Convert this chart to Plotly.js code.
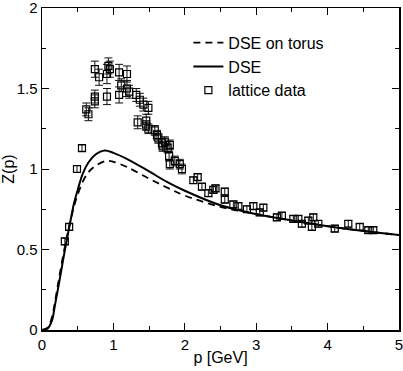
<!DOCTYPE html>
<html><head><meta charset="utf-8">
<script src="https://cdn.plot.ly/plotly-3.0.1.min.js"></script>
<style>html,body{margin:0;padding:0;background:#fff}#c{width:403px;height:371px}</style>
</head><body><div id="c"></div>
<script>
// DSE curves
const dseP = [0,0.08,0.14,0.18,0.25,0.33,0.4,0.45,0.5,0.57,0.65,0.75,0.88,1.0,1.2,1.5,1.75,2,2.5,3,3.5,4,4.5,5];
const dseZ = [0,0.01,0.06,0.15,0.32,0.52,0.68,0.79,0.87,0.97,1.04,1.09,1.115,1.10,1.06,0.985,0.92,0.865,0.775,0.72,0.68,0.645,0.615,0.59];
const torusP = [0,0.08,0.14,0.18,0.25,0.33,0.4,0.45,0.5,0.57,0.65,0.75,0.9,1.0,1.2,1.5,1.75,2,2.5,3,3.5,4,4.5,5];
const torusZ = [0,0.015,0.08,0.17,0.35,0.54,0.68,0.77,0.84,0.92,0.98,1.02,1.05,1.045,1.01,0.94,0.885,0.835,0.765,0.72,0.68,0.645,0.615,0.59];
// lattice data
const latP = [0.32,0.38,0.49,0.56,0.62,0.65,0.74,0.74,0.74,0.80,0.91,0.91,0.93,0.95,1.08,1.08,1.11,1.19,1.19,1.22,1.32,1.34,1.37,1.42,1.46,1.46,1.49,1.49,1.58,1.61,1.63,1.68,1.69,1.72,1.76,1.79,1.78,1.79,1.86,1.93,1.96,2.12,2.18,2.24,2.33,2.40,2.43,2.56,2.56,2.68,2.75,2.87,2.96,3.05,3.10,3.29,3.36,3.52,3.59,3.64,3.73,3.80,3.78,3.87,4.10,4.29,4.45,4.57,4.64];
const latZ = [0.55,0.64,1.00,1.13,1.37,1.34,1.45,1.42,1.62,1.57,1.45,1.59,1.64,1.62,1.60,1.46,1.52,1.59,1.50,1.48,1.46,1.29,1.43,1.40,1.30,1.27,1.38,1.25,1.24,1.21,1.19,1.16,1.14,1.17,1.13,1.15,1.08,1.03,1.05,1.03,1.00,0.93,0.95,0.89,0.85,0.87,0.88,0.86,0.81,0.78,0.77,0.75,0.77,0.73,0.76,0.70,0.71,0.69,0.69,0.66,0.68,0.70,0.64,0.66,0.63,0.66,0.64,0.62,0.62];
const latErr = [0.02,0.02,0.02,0.02,0.04,0.04,0.04,0.04,0.05,0.05,0.05,0.06,0.05,0.05,0.05,0.05,0.04,0.05,0.05,0.04,0.04,0.04,0.04,0.04,0.04,0.03,0.04,0.03,0.03,0.03,0.03,0.03,0.03,0.03,0.03,0.03,0.03,0.03,0.03,0.03,0.03,0.02,0.02,0.02,0.02,0.02,0.02,0.02,0.02,0.02,0.02,0.02,0.02,0.02,0.02,0.02,0.02,0.02,0.02,0.02,0.02,0.02,0.02,0.02,0.02,0.02,0.02,0.02,0.02];

const FONT = 'Liberation Sans, Arial';
const traces = [
  {x: torusP, y: torusZ, mode:'lines', name:'DSE on torus', line:{color:'#000', width:1.8, dash:'7px,5px', shape:'spline'}},
  {x: dseP, y: dseZ, mode:'lines', name:'DSE', line:{color:'#000', width:2, shape:'spline'}},
  {x: latP, y: latZ, mode:'markers', name:'lattice data',
   marker:{symbol:'square-open', size:7, color:'#000', line:{width:1.2, color:'#000'}},
   error_y:{type:'data', array: latErr, visible:true, color:'#111', thickness:1, width:4}}
];
const axBase = {showline:true, mirror:'ticks', linecolor:'#000', linewidth:1.5, ticks:'inside', ticklen:7, tickwidth:1, tickcolor:'#000', showgrid:false, zeroline:false, ticklabeloverflow:'allow', tickfont:{family:FONT, size:15, color:'#000'}};
const layout = {
  width:403, height:371, margin:{l:42, r:4, t:8, b:41},
  paper_bgcolor:'#fff', plot_bgcolor:'#fff', showlegend:true,
  xaxis: Object.assign({}, axBase, {range:[0,5], dtick:1, tick0:0, minor:{dtick:0.5, ticks:'inside', ticklen:4, tickcolor:'#000'},
    title:{text:'p [GeV]', standoff:0, font:{family:FONT, size:16, color:'#000'}}}),
  yaxis: Object.assign({}, axBase, {range:[0,2], dtick:0.5, tick0:0, minor:{dtick:0.25, ticks:'inside', ticklen:4, tickcolor:'#000'},
    title:{text:'Z(p)', standoff:6, font:{family:FONT, size:16, color:'#000'}}}),
  legend:{x:0.41, y:0.945, xanchor:'left', yanchor:'top', bgcolor:'rgba(0,0,0,0)', borderwidth:0,
    font:{family:FONT, size:16, color:'#000'}, itemwidth:30, tracegroupgap:0}
};
Plotly.newPlot('c', traces, layout, {displayModeBar:false, staticPlot:true});
</script></body></html>
